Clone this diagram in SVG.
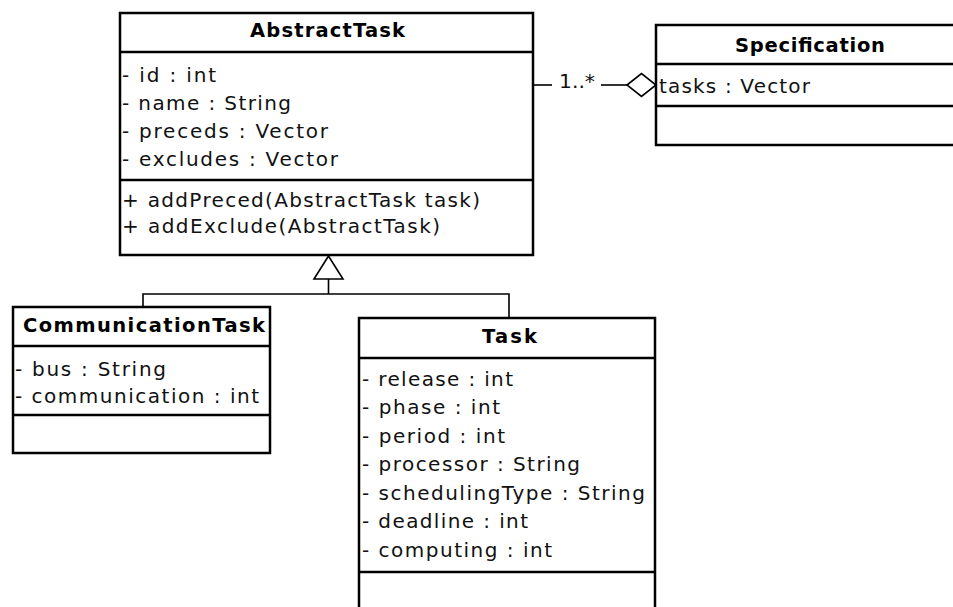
<svg xmlns="http://www.w3.org/2000/svg" width="953" height="607" viewBox="0 0 953 607">
  <style>
    .box { fill: #ffffff; stroke: #000000; stroke-width: 2.5; }
    .sep { stroke: #000000; stroke-width: 2.5; }
    .title { font-family: "DejaVu Sans", "Liberation Sans", sans-serif; font-size: 19.5px; font-weight: bold; fill: #000000; }
    .member { font-family: "DejaVu Sans", "Liberation Sans", sans-serif; font-size: 20px; fill: #111111; }
    .conn { fill: none; stroke: #000000; stroke-width: 1.6; }
    .head { fill: #ffffff; stroke: #000000; stroke-width: 1.6; }
  </style>
  <rect width="953" height="607" fill="#ffffff"/>

  <!-- connectors -->
  <g id="connectors">
    <!-- aggregation Specification <>— AbstractTask -->
    <line class="conn" x1="533" y1="85" x2="552" y2="85"/>
    <line class="conn" x1="601" y1="85" x2="627" y2="85"/>
    <polygon class="head" points="627,85 641.5,73.5 656,85 641.5,96.5"/>
    <text class="member" x="559" y="88" textLength="36" lengthAdjust="spacingAndGlyphs">1..*</text>
    <!-- generalization to AbstractTask -->
    <path class="conn" d="M143,307 V294 H509 V318"/>
    <line class="conn" x1="328.5" y1="294" x2="328.5" y2="279"/>
    <polygon class="head" points="328.5,256 314,279 343,279"/>
  </g>

  <!-- AbstractTask -->
  <g id="AbstractTask">
    <rect class="box" x="120" y="13" width="413" height="242"/>
    <line class="sep" x1="120" y1="52" x2="533" y2="52"/>
    <line class="sep" x1="120" y1="180" x2="533" y2="180"/>
    <text class="title" x="250" y="37" textLength="155">AbstractTask</text>
    <text class="member" x="122" y="82" textLength="94">- id : int</text>
    <text class="member" x="122" y="110" textLength="169">- name : String</text>
    <text class="member" x="122" y="138" textLength="206">- preceds : Vector</text>
    <text class="member" x="122" y="166" textLength="216">- excludes : Vector</text>
    <text class="member" x="122" y="207" textLength="358">+ addPreced(AbstractTask task)</text>
    <text class="member" x="122" y="233" textLength="318">+ addExclude(AbstractTask)</text>
  </g>

  <!-- Specification -->
  <g id="Specification">
    <rect class="box" x="656" y="25" width="330" height="120"/>
    <line class="sep" x1="656" y1="64" x2="986" y2="64"/>
    <line class="sep" x1="656" y1="106" x2="986" y2="106"/>
    <text class="title" x="735" y="52" textLength="150">Specification</text>
    <text class="member" x="659" y="93" textLength="151">tasks : Vector</text>
  </g>

  <!-- CommunicationTask -->
  <g id="CommunicationTask">
    <rect class="box" x="13" y="307" width="257" height="146"/>
    <line class="sep" x1="13" y1="346" x2="270" y2="346"/>
    <line class="sep" x1="13" y1="415" x2="270" y2="415"/>
    <text class="title" x="23" y="332" textLength="242">CommunicationTask</text>
    <text class="member" x="15" y="376" textLength="151">- bus : String</text>
    <text class="member" x="15" y="403" textLength="244">- communication : int</text>
  </g>

  <!-- Task -->
  <g id="Task">
    <rect class="box" x="359" y="318" width="296" height="310"/>
    <line class="sep" x1="359" y1="358" x2="655" y2="358"/>
    <line class="sep" x1="359" y1="572" x2="655" y2="572"/>
    <text class="title" x="482" y="343" textLength="55">Task</text>
    <text class="member" x="362" y="386" textLength="151">- release : int</text>
    <text class="member" x="362" y="414" textLength="138">- phase : int</text>
    <text class="member" x="362" y="443" textLength="143">- period : int</text>
    <text class="member" x="362" y="471" textLength="218">- processor : String</text>
    <text class="member" x="362" y="500" textLength="283">- schedulingType : String</text>
    <text class="member" x="362" y="528" textLength="166">- deadline : int</text>
    <text class="member" x="362" y="557" textLength="190">- computing : int</text>
  </g>
</svg>
